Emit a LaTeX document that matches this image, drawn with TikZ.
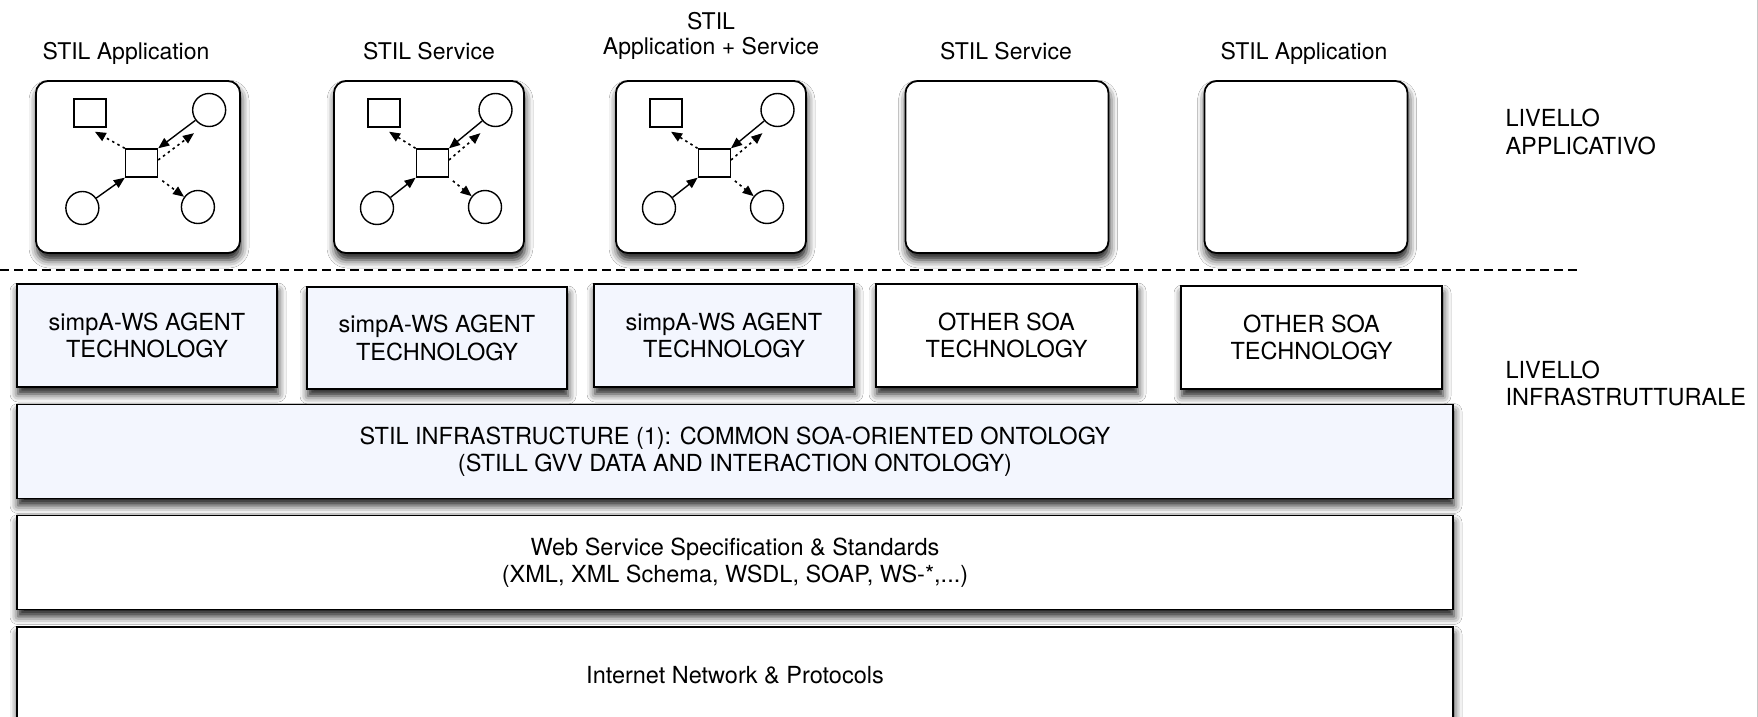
\documentclass[tikz,border=0pt]{standalone}
\usepackage{fontspec}
\setmainfont{TeX Gyre Heros}
\usetikzlibrary{arrows.meta,shadows.blur,calc}
\definecolor{agentblue}{RGB}{243,246,254}
\begin{document}
\begin{tikzpicture}[x=1pt,y=-1pt,
  every node/.style={font=\fontsize{23}{27}\selectfont},
  shadowed/.style={blur shadow={shadow xshift=1pt,shadow yshift=-7pt,shadow blur radius=8pt,shadow opacity=90}},
  appbox/.style={draw,line width=1.8pt,rounded corners=12pt,fill=white,shadowed,minimum height=172pt,inner sep=0pt},
  layerbox/.style={draw,line width=1.8pt,fill=white,shadowed,align=center,inner sep=0pt,font=\fontsize{23.5}{27.5}\selectfont},
  elemrect/.style={draw,line width=1.4pt,fill=white,minimum width=32pt,minimum height=28pt,inner sep=0pt},
  elemcirc/.style={draw,line width=1.4pt,fill=white,circle,minimum size=33pt,inner sep=0pt},
  solidarrow/.style={line width=1.4pt,-{Triangle[length=11pt,width=9pt]}},
  dotarrow/.style={line width=1.6pt,dash pattern=on 2.5pt off 3.5pt,-{Triangle[length=11pt,width=9pt]}},
  sepline/.style={line width=1.5pt,dash pattern=on 9pt off 5pt},
  lbl/.style={anchor=base},
  lvl/.style={anchor=base west,font=\fontsize{23.5}{28}\selectfont},
]
\useasboundingbox (0,0) rectangle (1758,717);
\fill[white] (0,0) rectangle (1758,717);
\draw[gray!45,line width=1pt] (1757.5,0) -- (1757.5,717);

% top labels
\node[lbl] (l1) at (126,59.5) {STIL Application};
\node[lbl] (l2) at (429,59.5) {STIL Service};
\node[lbl] (l3a) at (711,29.5) {STIL};
\node[lbl] (l3b) at (711,54.5) {Application + Service};
\node[lbl] (l4) at (1006,59.5) {STIL Service};
\node[lbl] (l5) at (1304,59.5) {STIL Application};

% application boxes
\node[appbox,minimum width=204pt] (b1) at (138,167) {};
\node[appbox,minimum width=190pt] (b2) at (429,167) {};
\node[appbox,minimum width=190pt] (b3) at (711,167) {};
\node[appbox,minimum width=203pt] (b4) at (1007,167) {};
\node[appbox,minimum width=203pt] (b5) at (1306,167) {};

\foreach \i/\cx/\k in {1/138/1.07,2/429/1,3/711/1}{
  \node[elemrect] (sq\i) at (\cx-45*\k,113) {};
  \node[elemrect] (ct\i) at (\cx+3.3*\k,163) {};
  \node[elemcirc] (tr\i) at (\cx+66.5*\k,110) {};
  \node[elemcirc] (bl\i) at (\cx-52*\k,208) {};
  \node[elemcirc] (br\i) at (\cx+56*\k,207) {};
  \draw[solidarrow] (tr\i) -- (ct\i.north east);
  \draw[dotarrow] ($(ct\i.east)+(0,-3)$) -- ($(tr\i.south west)+(-3,11)$);
  \draw[dotarrow] (ct\i.north west) -- ($(sq\i.south)+(5,4)$);
  \draw[solidarrow] (bl\i) -- (ct\i.south west);
  \draw[dotarrow,shorten <=5pt] (ct\i.south east) -- (br\i);
}

% separator
\coordinate (sepL) at (0,270);
\coordinate (sepR) at (1577,270);
\draw[sepline] (sepL) -- (sepR);

% level labels
\node[lvl] (lvA1) at (1502,126) {LIVELLO};
\node[lvl] (lvA2) at (1502,154) {APPLICATIVO};
\node[lvl] (lvI1) at (1502,378) {LIVELLO};
\node[lvl] (lvI2) at (1502,405) {INFRASTRUTTURALE};

% technology boxes
\node[layerbox,fill=agentblue,minimum width=260pt,minimum height=103pt] (a1) at (147,335.5) {simpA-WS AGENT\\TECHNOLOGY};
\node[layerbox,fill=agentblue,minimum width=260pt,minimum height=102pt] (a2) at (437,338) {simpA-WS AGENT\\TECHNOLOGY};
\node[layerbox,fill=agentblue,minimum width=260pt,minimum height=103pt] (a3) at (724,335.5) {simpA-WS AGENT\\TECHNOLOGY};
\node[layerbox,minimum width=261pt,minimum height=103pt] (a4) at (1006.5,335.5) {OTHER SOA\\TECHNOLOGY};
\node[layerbox,minimum width=261pt,minimum height=103pt] (a5) at (1311.5,337.5) {OTHER SOA\\TECHNOLOGY};

% layers
\node[layerbox,fill=agentblue,minimum width=1436pt,minimum height=94pt] (infra) at (735,451.5) {STIL INFRASTRUCTURE (1): COMMON SOA-ORIENTED ONTOLOGY\\(STILL GVV DATA AND INTERACTION ONTOLOGY)};
\node[layerbox,minimum width=1436pt,minimum height=94pt] (ws) at (735,562.5) {Web Service Specification \& Standards\\(XML, XML Schema, WSDL, SOAP, WS-*,...)};
\node[layerbox,minimum width=1436pt,minimum height=96pt] (net) at (735,675) {Internet Network \& Protocols};
\end{tikzpicture}
\end{document}
